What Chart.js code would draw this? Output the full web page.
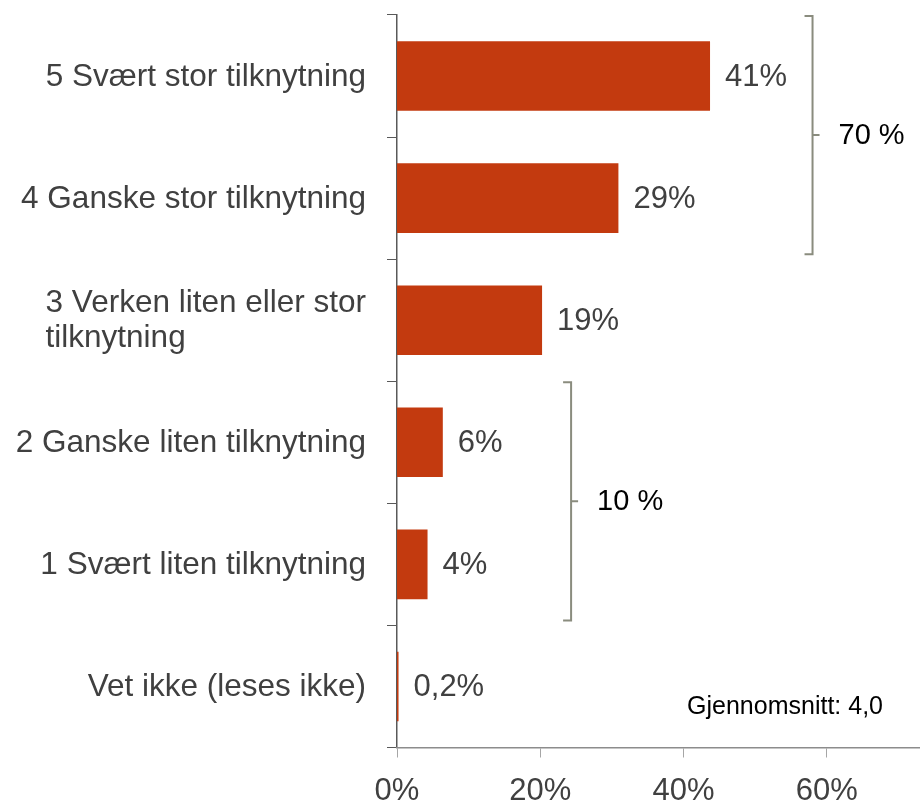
<!DOCTYPE html>
<html lang="no">
<head>
    <meta charset="UTF-8">
    <title>Tilknytning</title>
    <script src="https://cdn.jsdelivr.net/npm/chart.js"></script>
    <style>
        html, body { margin: 0; padding: 0; background: #fff; }
        #wrap { width: 920px; height: 800px; }
    </style>
</head>
<body>
    <div id="wrap"><canvas id="chart" width="920" height="800"></canvas></div>

    <script>
        // data
        const categories = [
            ['5 Svært stor tilknytning'],
            ['4 Ganske stor tilknytning'],
            ['3 Verken liten eller stor', 'tilknytning'],
            ['2 Ganske liten tilknytning'],
            ['1 Svært liten tilknytning'],
            ['Vet ikke (leses ikke)']
        ];
        const values = [41, 29, 19, 6, 4, 0.2];
        const valueLabels = ['41%', '29%', '19%', '6%', '4%', '0,2%'];
        const xTicks = [0, 20, 40, 60];
        const groupLabels = ['70 %', '10 %'];
        const groupFrom = [0, 3];
        const groupTo = [1, 4];
        const note = 'Gjennomsnitt: 4,0';

        const FONT = '"Liberation Sans", Arial, sans-serif';
        const TEXT = '#404040';

        // category labels: right edge at the axis, multi-line block left aligned
        const catLabels = {
            id: 'catLabels',
            afterDraw(chart) {
                const ctx = chart.ctx, y = chart.scales.y;
                const right = chart.chartArea.left - 31;
                ctx.save();
                ctx.font = '31.5px ' + FONT;
                ctx.fillStyle = TEXT;
                ctx.textBaseline = 'middle';
                ctx.textAlign = 'left';
                categories.forEach((lines, i) => {
                    const cy = y.getPixelForValue(i) + 1;
                    const w = Math.max(...lines.map(l => ctx.measureText(l).width));
                    const lh = 35;
                    lines.forEach((l, k) => {
                        ctx.fillText(l, right - w, cy + (k - (lines.length - 1) / 2) * lh);
                    });
                });
                ctx.restore();
            }
        };

        // value labels right of each bar
        const barLabels = {
            id: 'barLabels',
            afterDatasetsDraw(chart) {
                const ctx = chart.ctx;
                const meta = chart.getDatasetMeta(0);
                ctx.save();
                ctx.font = '31px ' + FONT;
                ctx.fillStyle = TEXT;
                ctx.textBaseline = 'middle';
                ctx.textAlign = 'left';
                meta.data.forEach((bar, i) => {
                    ctx.fillText(valueLabels[i], bar.x + 15, bar.y + 1);
                });
                ctx.restore();
            }
        };

        // group brackets with share totals, plus the average note
        const brackets = {
            id: 'brackets',
            afterDraw(chart, args, opts) {
                const ctx = chart.ctx, y = chart.scales.y, x = chart.scales.x;
                const half = (y.getPixelForValue(1) - y.getPixelForValue(0)) / 2;
                ctx.save();
                ctx.strokeStyle = '#8a8c7e';
                ctx.lineWidth = 2;
                groupLabels.forEach((label, g) => {
                    const bx = x.getPixelForValue(opts.at[g]);
                    const top = y.getPixelForValue(groupFrom[g]) - half + 1;
                    const bottom = y.getPixelForValue(groupTo[g]) + half - 5;
                    const mid = (top + bottom) / 2;
                    ctx.beginPath();
                    ctx.moveTo(bx - 8, top);
                    ctx.lineTo(bx, top);
                    ctx.lineTo(bx, bottom);
                    ctx.lineTo(bx - 8, bottom);
                    ctx.moveTo(bx, mid);
                    ctx.lineTo(bx + 7, mid);
                    ctx.stroke();
                    ctx.fillStyle = '#000';
                    ctx.font = '29px ' + FONT;
                    ctx.textBaseline = 'middle';
                    ctx.textAlign = 'left';
                    ctx.fillText(label, bx + 26, mid + 1);
                });
                ctx.fillStyle = '#000';
                ctx.font = '25px ' + FONT;
                ctx.textAlign = 'right';
                ctx.textBaseline = 'middle';
                ctx.fillText(note, chart.chartArea.right - 37, y.getPixelForValue(5) + 21);
                ctx.restore();
            }
        };

        new Chart(document.getElementById('chart'), {
            type: 'bar',
            data: {
                labels: categories.map(c => c.join(' ')),
                datasets: [{
                    data: values,
                    xAxisID: 'xb',
                    backgroundColor: '#c33a0f',
                    borderWidth: 0,
                    categoryPercentage: 1,
                    barPercentage: 0.57
                }]
            },
            options: {
                indexAxis: 'y',
                responsive: false,
                animation: false,
                layout: { padding: { top: 15, right: 0, left: 0, bottom: 0 } },
                plugins: {
                    legend: { display: false },
                    tooltip: { enabled: false },
                    brackets: { at: [58, 24.3] }
                },
                scales: {
                    y: {
                        position: 'left',
                        offset: true,
                        grid: {
                            offset: true,
                            drawOnChartArea: false,
                            drawTicks: true,
                            tickLength: 10,
                            color: '#595959'
                        },
                        border: { display: true, color: '#595959', width: 1.5 },
                        ticks: { display: false },
                        afterFit(s) { s.width = 397; }
                    },
                    x: {
                        position: 'bottom',
                        min: 0,
                        max: 73,
                        afterBuildTicks(s) { s.ticks = xTicks.map(v => ({ value: v })); },
                        grid: {
                            drawOnChartArea: false,
                            drawTicks: true,
                            tickLength: 10,
                            color: '#a6a6a6'
                        },
                        border: { display: true, color: '#8c8c8c', width: 1.5 },
                        ticks: {
                            color: TEXT,
                            font: { family: FONT, size: 31 },
                            padding: 15,
                            maxRotation: 0,
                            callback: v => v + '%'
                        },
                        afterFit(s) { s.height = 52.5; }
                    },
                    // bars sit on their own (hidden) scale, as in the original graphic
                    xb: {
                        display: false,
                        position: 'bottom',
                        min: 0,
                        max: 68.5
                    }
                }
            },
            plugins: [catLabels, barLabels, brackets]
        });
    </script>
</body>
</html>
